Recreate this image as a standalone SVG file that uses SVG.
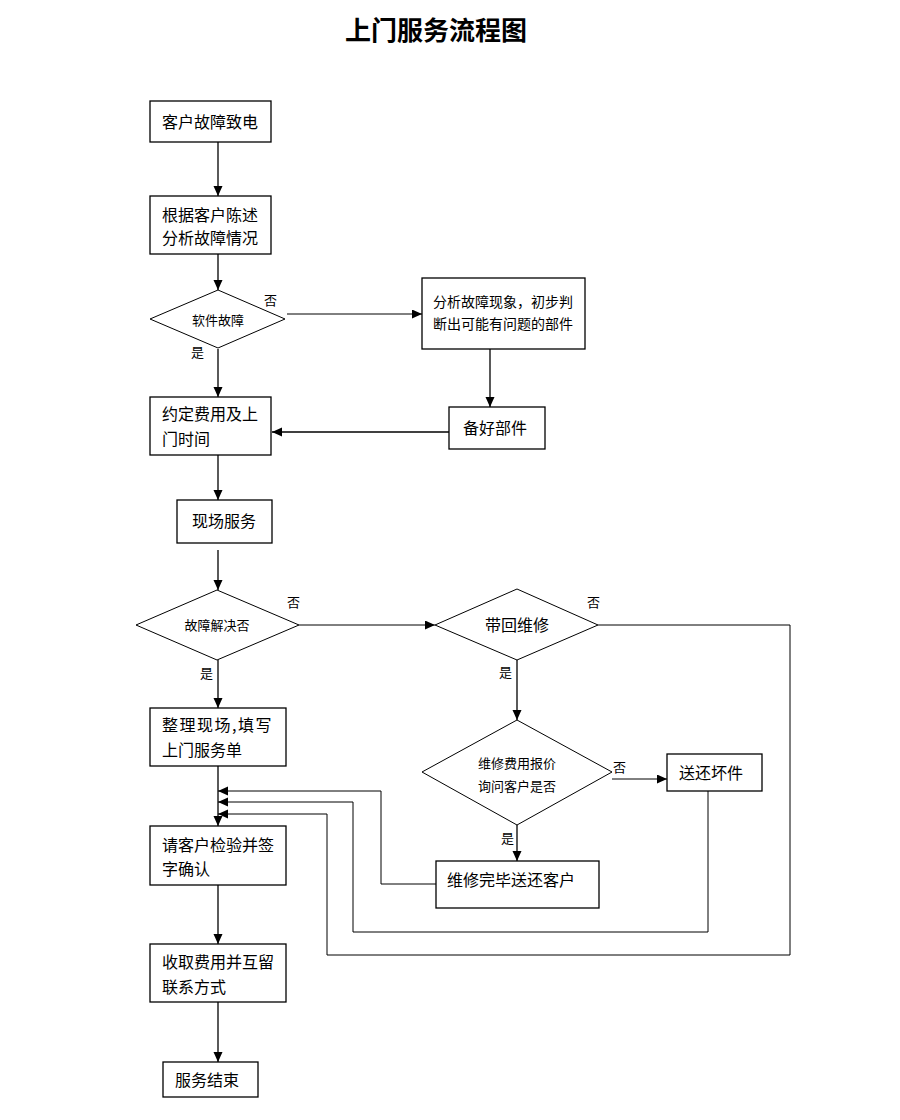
<svg xmlns="http://www.w3.org/2000/svg" width="900" height="1120" viewBox="0 0 900 1120">
<style>
text{font-family:"Noto Sans CJK SC","Liberation Sans",sans-serif;fill:#000}
.box{fill:#fff;stroke:#000;stroke-width:1.3}
.dia{fill:#fff;stroke:#000;stroke-width:1}
.t16{font-size:16px}
.t13{font-size:13px}
.t14{font-size:14px}
.c{text-anchor:middle}
.lbl{font-size:13px}
.ln{fill:none;stroke:#000;stroke-width:1.3}
.ln1{fill:none;stroke:#000;stroke-width:1}
</style>
<defs>
<marker id="ah" markerUnits="userSpaceOnUse" markerWidth="11" markerHeight="10" refX="10" refY="4.5" orient="auto">
<path d="M0,0 L10,4.5 L0,9 z" fill="#000"/>
</marker>
</defs>
<rect width="900" height="1120" fill="#fff"/>
<text x="436" y="40" class="c" style="font-size:26px;font-weight:bold">上门服务流程图</text>

<g id="connectors">
<line class="ln" x1="218" y1="142" x2="218" y2="196" marker-end="url(#ah)"/>
<line class="ln" x1="218" y1="254" x2="218" y2="290" marker-end="url(#ah)"/>
<line class="ln1" x1="287" y1="314" x2="422" y2="314" marker-end="url(#ah)"/>
<line class="ln" x1="218" y1="349" x2="218" y2="397" marker-end="url(#ah)"/>
<line class="ln" x1="490" y1="349" x2="490" y2="407" marker-end="url(#ah)"/>
<line class="ln" x1="449" y1="432" x2="272" y2="432" marker-end="url(#ah)"/>
<line class="ln" x1="218" y1="455" x2="218" y2="500" marker-end="url(#ah)"/>
<line class="ln" x1="218" y1="550" x2="218" y2="590" marker-end="url(#ah)"/>
<line class="ln1" x1="299" y1="625" x2="435" y2="625" marker-end="url(#ah)"/>
<line class="ln" x1="218" y1="660" x2="218" y2="708" marker-end="url(#ah)"/>
<line class="ln" x1="517" y1="660" x2="517" y2="720" marker-end="url(#ah)"/>
<line class="ln1" x1="612" y1="779" x2="667" y2="779" marker-end="url(#ah)"/>
<line class="ln" x1="517" y1="825" x2="517" y2="861" marker-end="url(#ah)"/>
<line class="ln" x1="218" y1="766" x2="218" y2="826" marker-end="url(#ah)"/>
<polyline class="ln1" points="436,884 381,884 381,791 218,791" marker-end="url(#ah)"/>
<polyline class="ln1" points="708,791 708,932 353,932 353,802 218,802" marker-end="url(#ah)"/>
<polyline class="ln1" points="598,625 790,625 790,955 327,955 327,814 218,814" marker-end="url(#ah)"/>
<line class="ln" x1="218" y1="885" x2="218" y2="944" marker-end="url(#ah)"/>
<line class="ln" x1="218" y1="1002" x2="218" y2="1062" marker-end="url(#ah)"/>
<text x="264" y="305" class="lbl">否</text>
<text x="191" y="357" class="lbl">是</text>
<text x="287" y="607" class="lbl">否</text>
<text x="200" y="678" class="lbl">是</text>
<text x="587" y="607" class="lbl">否</text>
<text x="499" y="677" class="lbl">是</text>
<text x="613" y="772" class="lbl">否</text>
<text x="501" y="843" class="lbl">是</text>
</g>

<g id="n1"><rect class="box" x="150" y="101" width="121" height="41"/><text x="162" y="128" class="t16">客户故障致电</text></g>
<g id="n2"><rect class="box" x="150" y="196" width="121" height="58"/><text x="162" y="221" class="t16">根据客户陈述</text><text x="162" y="244" class="t16">分析故障情况</text></g>
<g id="d1"><polygon class="dia" points="218,290 285,319 218,348 150,319"/><text x="218" y="325" class="t13 c">软件故障</text></g>
<g id="n3"><rect class="box" x="422" y="278" width="163" height="71"/><text x="433" y="307" class="t14">分析故障现象，初步判</text><text x="433" y="329" class="t14">断出可能有问题的部件</text></g>
<g id="n4"><rect class="box" x="449" y="407" width="96" height="42"/><text x="463" y="434" class="t16">备好部件</text></g>
<g id="n5"><rect class="box" x="150" y="397" width="121" height="58"/><text x="162" y="420" class="t16">约定费用及上</text><text x="162" y="445" class="t16">门时间</text></g>
<g id="n6"><rect class="box" x="177" y="500" width="95" height="43"/><text x="192" y="527" class="t16">现场服务</text></g>
<g id="d2"><polygon class="dia" points="217,590 299,625 217,660 136,625"/><text x="217" y="630" class="t13 c">故障解决否</text></g>
<g id="d3"><polygon class="dia" points="517,589 598,625 517,660 435,625"/><text x="517" y="631" class="t16 c">带回维修</text></g>
<g id="n7"><rect class="box" x="150" y="708" width="136" height="58"/><text x="162" y="731" class="t16" letter-spacing="1.5">整理现场,填写</text><text x="162" y="756" class="t16">上门服务单</text></g>
<g id="d4"><polygon class="dia" points="517,720 612,772 517,825 422,772"/><text x="517" y="768" class="t13 c">维修费用报价</text><text x="517" y="791" class="t13 c">询问客户是否</text></g>
<g id="n8"><rect class="box" x="667" y="754" width="95" height="37"/><text x="679" y="779" class="t16">送还坏件</text></g>
<g id="n9"><rect class="box" x="150" y="826" width="136" height="59"/><text x="162" y="851" class="t16">请客户检验并签</text><text x="162" y="875" class="t16">字确认</text></g>
<g id="n10"><rect class="box" x="436" y="861" width="163" height="47"/><text x="447" y="886" class="t16">维修完毕送还客户</text></g>
<g id="n11"><rect class="box" x="150" y="944" width="136" height="58"/><text x="162" y="968" class="t16">收取费用并互留</text><text x="162" y="993" class="t16">联系方式</text></g>
<g id="n12"><rect class="box" x="163" y="1062" width="95" height="35"/><text x="175" y="1086" class="t16">服务结束</text></g>
</svg>
